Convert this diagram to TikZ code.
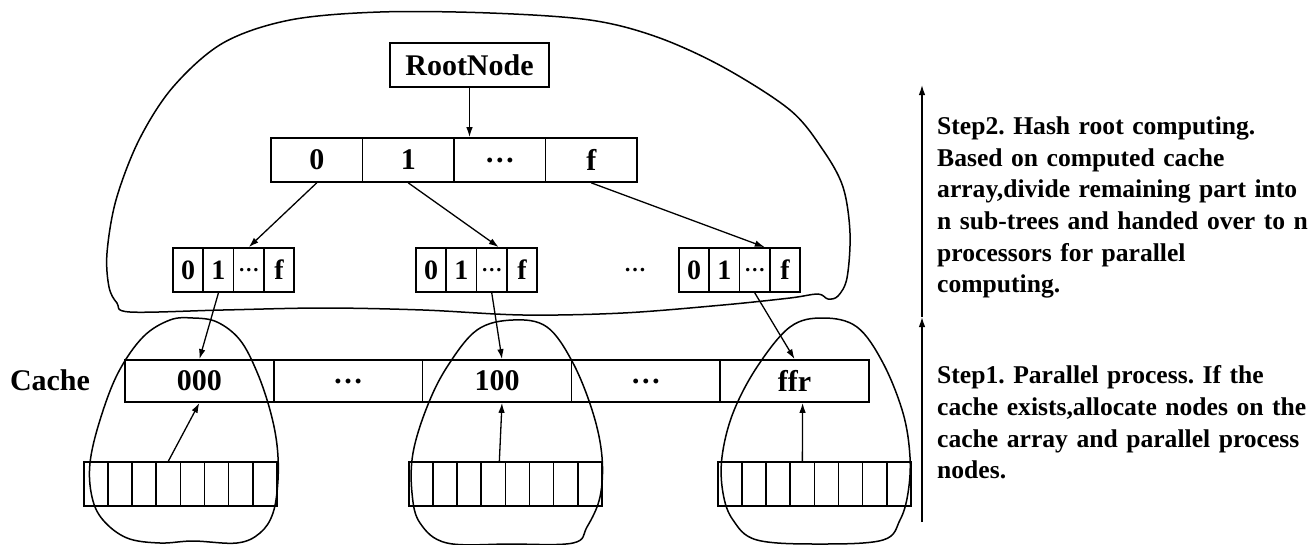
\documentclass[tikz,border=0pt]{standalone}
\usepackage{fontspec}
\setmainfont{Liberation Serif}
\usetikzlibrary{arrows.meta,calc}
\newcommand{\dd}{…}
\frenchspacing
\begin{document}
\begin{tikzpicture}[x=1pt,y=-1pt,
  boxline/.style={draw, line width=1.7pt, inner sep=0pt},
  tcell/.style={boxline, minimum width=91.5pt, minimum height=44pt, font=\bfseries\fontsize{30}{30}\selectfont},
  scell/.style={boxline, minimum width=30.3pt, minimum height=44pt, font=\bfseries\fontsize{28}{28}\selectfont},
  sdots/.style={font=\bfseries\fontsize{21}{21}\selectfont},
  ccell/.style={boxline, minimum width=148.8pt, minimum height=42pt, font=\bfseries\fontsize{30}{30}\selectfont},
  bcell/.style={boxline, minimum width=24.1pt, minimum height=44pt},
  conn/.style={-{Latex[length=10pt,width=6.5pt]}, line width=1.3pt},
  blob/.style={draw, line width=1.5pt},
  steptext/.style={anchor=north west, inner sep=0pt, text width=380pt, align=left, font=\bfseries\fontsize{25.6}{31.7}\selectfont}
]
\useasboundingbox (0,0) rectangle (1315,544);

% big blob
\draw[blob] plot[smooth cycle, tension=0.55] coordinates {
 (130,312) (117,303) (109,287) (107,253) (116,200) (139,140) (173,87) (223,43)
 (290,20) (380,12) (490,13) (590,20) (657,37) (723,67) (790,110) (823,150)
 (843,187) (850,233) (847,278) (838,296) (828,299) (818,294) (790,298) (723,305)
 (623,313) (523,315) (423,310) (323,308) (223,310)};

% lower blobs
\draw[blob] plot[smooth cycle, tension=0.6] coordinates {
 (193,318) (217,322) (240,340) (257,372) (270,410) (277,445) (278,480) (273,513) (260,533)
 (237,543) (193,541) (160,543) (127,538) (103,520) (92,497) (90,463) (100,420)
 (118,373) (143,337) (170,320)};
\draw[blob] plot[smooth cycle, tension=0.6] coordinates {
 (513,320) (547,327) (573,363) (593,413) (602,457) (600,497) (587,527) (573,543)
 (510,544) (447,543) (420,523) (412,493) (413,453) (427,407) (447,367) (477,330)};
\draw[blob] plot[smooth cycle, tension=0.6] coordinates {
 (823,318) (857,327) (883,363) (903,413) (910,457) (908,493) (900,520) (883,540)
 (820,544) (757,540) (733,520) (723,493) (722,457) (733,413) (757,367) (790,327)};

% root node
\node[boxline, minimum width=159pt, minimum height=44pt, font=\bfseries\fontsize{30}{30}\selectfont] (root) at (469.5,65) {RootNode};

% top array
\foreach \i/\t in {1/0,2/1,3/\dd,4/f}
  \node[tcell] (t\i) at ({271+91.5*(\i-0.5)},160) {\t};

% small arrays
\foreach \a/\x in {1/173,2/416,3/679}{
  \foreach \i/\t in {1/0,2/1,4/f}
    \node[scell] (s\a c\i) at ({\x+30.3*(\i-0.5)},270) {\t};
  \node[scell, sdots] (s\a c3) at ({\x+30.3*2.5},270) {\dd};
}
\node[font=\bfseries\fontsize{22}{22}\selectfont, inner sep=0pt] (between) at (635,270) {\dd};

% cache array
\node[font=\bfseries\fontsize{30}{30}\selectfont, inner sep=0pt] (cachelbl) at (50,380) {Cache};
\foreach \i/\t in {1/000,2/\dd,3/100,4/\dd,5/ffr}
  \node[ccell] (c\i) at ({125+148.8*(\i-0.5)},381) {\t};

% bottom arrays
\foreach \a/\x in {1/84,2/409,3/718}
  \foreach \i in {1,...,8}
    \node[bcell] (b\a c\i) at ({\x+24.1*(\i-0.5)},484) {};

% connectors
\draw[conn] (root.south) -- (root.south |- t2.north);
\draw[conn] (t1.south) -- (s1c3.north);
\draw[conn] (t2.south) -- ([xshift=7pt]s2c3.north);
\draw[conn] (t4.south) -- ([xshift=10pt]s3c3.north);
\draw[conn] (s1c2.south) -- (c1.north);
\draw[conn] (s2c3.south) -- ([xshift=5pt]c3.north);
\draw[conn] (s3c3.south) -- (c5.north);
\draw[conn] (b1c4.north) -- (c1.south);
\draw[conn] ([xshift=6pt]b2c4.north) -- ([xshift=5pt]c3.south);
\draw[conn] (b3c4.north) -- ([xshift=8pt]c5.south);

% step arrows
\coordinate (v0) at (922,522);
\coordinate (v1) at (922,317);
\coordinate (v2) at (922,85);
\draw[conn] (v0) -- (v1);
\draw[conn] (v1) -- (v2);

\node[steptext] (step2) at (937,116.5) {Step2. Hash root computing.\\
Based on computed cache\\
array,divide remaining part into\\
n sub-trees and handed over to n\\
processors for parallel\\
computing.};
\node[steptext] (step1) at (937,365.5) {Step1. Parallel process. If the\\
cache exists,allocate nodes on the\\
cache array and parallel process\\
nodes.};
\end{tikzpicture}
\end{document}
